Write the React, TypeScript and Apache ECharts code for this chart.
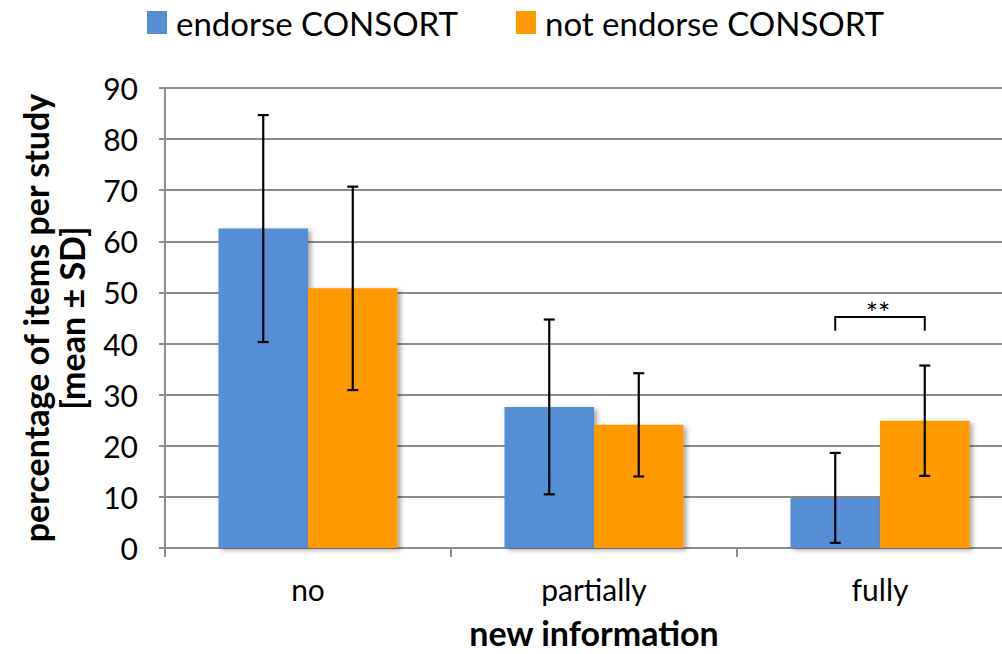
import React, { useEffect, useRef } from "react";
import * as echarts from "echarts";

// Categories and per-group summary statistics (mean ± SD, percent of items per study)
const categories = ["no", "partially", "fully"];
const endorseMean = [62.5, 27.6, 9.8];
const endorseSD = [22.2, 17.1, 8.8];
const notEndorseMean = [50.8, 24.1, 24.9];
const notEndorseSD = [19.9, 10.1, 10.8];

// Significance marker between the two groups
const sigCategory = 2;
const sigLevel = 45.2;
const sigLegDrop = 2.7;
const sigLabel = "**";

const BLUE = "#558ED5";
const ORANGE = "#FF9900";
const FONT = "Lato, 'Open Sans', sans-serif";
const CAT_GAP = 0.374;

export default function App() {
  const ref = useRef<HTMLDivElement>(null);

  useEffect(() => {
    if (!ref.current) return;
    const chart = echarts.init(ref.current, null, { renderer: "svg" });

    const errData: number[][] = [];
    categories.forEach((_, i) => {
      errData.push([i, endorseMean[i], endorseSD[i], 0]);
      errData.push([i, notEndorseMean[i], notEndorseSD[i], 1]);
    });

    const barShadow = {
      shadowBlur: 5,
      shadowOffsetX: 3,
      shadowOffsetY: 2,
      shadowColor: "rgba(0,0,0,0.35)",
    };

    chart.setOption({
      animation: false,
      textStyle: { fontFamily: FONT },
      legend: {
        top: 1,
        left: 142,
        itemWidth: 20,
        itemHeight: 23,
        itemGap: 58,
        icon: "rect",
        textStyle: { fontSize: 33, color: "#000", fontFamily: FONT, padding: [0, 0, 0, 4] },
        data: ["endorse CONSORT", "not endorse CONSORT"],
      },
      grid: {
        left: 165,
        top: 88,
        right: -21,
        bottom: 106,
        containLabel: false,
        outerBoundsMode: "none",
      },
      xAxis: {
        type: "category",
        data: categories,
        name: "new information",
        nameLocation: "middle",
        nameGap: 67,
        nameTextStyle: { fontSize: 34, fontWeight: "bold", color: "#000", fontFamily: FONT },
        axisLine: { lineStyle: { color: "#8c8c8c", width: 2 } },
        axisTick: { show: true, length: 9, lineStyle: { color: "#8c8c8c", width: 2 } },
        axisLabel: { fontSize: 30, color: "#000", margin: 26, fontFamily: FONT },
      },
      yAxis: {
        type: "value",
        min: 0,
        max: 90,
        interval: 10,
        name: "percentage of items per study\n[mean ± SD]",
        nameLocation: "middle",
        nameRotate: 90,
        nameGap: 76,
        nameTextStyle: {
          fontSize: 34,
          fontWeight: "bold",
          color: "#000",
          lineHeight: 36,
          fontFamily: FONT,
          align: "center",
        },
        axisLine: { show: true, lineStyle: { color: "#8c8c8c", width: 2 } },
        axisTick: { show: true, length: 6, lineStyle: { color: "#8c8c8c", width: 2 } },
        axisLabel: { fontSize: 30, color: "#000", margin: 27, fontFamily: FONT },
        splitLine: { lineStyle: { color: "#8c8c8c", width: 2 } },
      },
      series: [
        {
          name: "endorse CONSORT",
          type: "bar",
          data: endorseMean,
          barGap: "0%",
          barCategoryGap: CAT_GAP * 100 + "%",
          itemStyle: { color: BLUE, ...barShadow },
        },
        {
          name: "not endorse CONSORT",
          type: "bar",
          data: notEndorseMean,
          barGap: "0%",
          barCategoryGap: CAT_GAP * 100 + "%",
          itemStyle: { color: ORANGE, ...barShadow },
        },
        {
          // mean ± SD whiskers, centred on each bar
          type: "custom",
          z: 10,
          silent: true,
          data: errData,
          renderItem: (params: any, api: any) => {
            const idx = api.value(0);
            const mean = api.value(1);
            const sd = api.value(2);
            const side = api.value(3);
            const catW = api.size([1, 0])[0];
            const barW = (catW * (1 - CAT_GAP)) / 2;
            const c = api.coord([idx, mean]);
            const cx = c[0] + (side === 0 ? -barW / 2 : barW / 2);
            const yTop = api.coord([idx, mean + sd])[1];
            const yBot = api.coord([idx, mean - sd])[1];
            const cap = 5.5;
            const style = { stroke: "#000", lineWidth: 2.2 };
            return {
              type: "group",
              children: [
                { type: "line", shape: { x1: cx, y1: yTop, x2: cx, y2: yBot }, style },
                { type: "line", shape: { x1: cx - cap, y1: yTop, x2: cx + cap, y2: yTop }, style },
                { type: "line", shape: { x1: cx - cap, y1: yBot, x2: cx + cap, y2: yBot }, style },
              ],
            };
          },
        },
        {
          // significance bracket
          type: "custom",
          z: 10,
          silent: true,
          data: [[sigCategory, sigLevel, sigLegDrop]],
          renderItem: (params: any, api: any) => {
            const idx = api.value(0);
            const level = api.value(1);
            const drop = api.value(2);
            const catW = api.size([1, 0])[0];
            const barW = (catW * (1 - CAT_GAP)) / 2;
            const c = api.coord([idx, level]);
            const x1 = c[0] - barW / 2;
            const x2 = c[0] + barW / 2;
            const yLeg = api.coord([idx, level - drop])[1];
            const style = { stroke: "#000", lineWidth: 2, fill: "none" };
            return {
              type: "group",
              children: [
                {
                  type: "polyline",
                  shape: { points: [[x1, yLeg], [x1, c[1]], [x2, c[1]], [x2, yLeg]] },
                  style,
                },
                {
                  type: "text",
                  style: {
                    text: sigLabel,
                    x: c[0] - 2,
                    y: c[1] + 10,
                    align: "center",
                    verticalAlign: "bottom",
                    fontSize: 29,
                    fontFamily: FONT,
                    fill: "#000",
                  },
                },
              ],
            };
          },
        },
      ],
    });

    return () => chart.dispose();
  }, []);

  return (
    <div
      ref={ref}
      style={{ position: "fixed", left: 0, top: 0, width: 1002, height: 654, background: "#fff" }}
    />
  );
}
